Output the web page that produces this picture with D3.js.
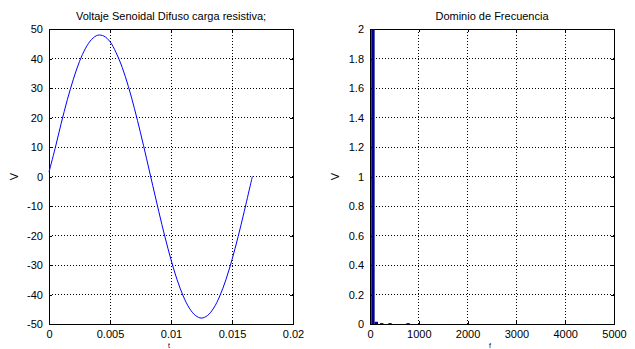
<!DOCTYPE html>
<html><head><meta charset="utf-8">
<title>Voltaje Senoidal</title>
<script src="https://cdn.jsdelivr.net/npm/d3@7"></script>
<style>
body { margin:0; background:#fff; }
text { font-family: "Liberation Sans", Arial, sans-serif; fill:#000; }
.grid line { stroke:#000; stroke-dasharray:1,2; stroke-width:1; shape-rendering:crispEdges; }
.ax path, .ax line { stroke:#000; shape-rendering:crispEdges; }
.ax text { font-size:11px; }
</style>
</head>
<body>
<script>
// time samples (s) and voltage
var tVals = [0,0.0005,0.001,0.0015,0.002,0.0025,0.003,0.0035,0.004,0.0045,0.005,0.0055,0.006,0.0065,0.007,0.0075,0.008,0.0085,0.009,0.0095,0.01,0.0105,0.011,0.0115,0.012,0.0125,0.013,0.0135,0.014,0.0145,0.015,0.0155,0.016,0.0165,0.01667];
var vVals = [1.5,9.5,18,26,33,39,43.5,46.5,47.9,47.6,45.7,42,37,30.6,23.1,14.8,6,-3,-11.9,-20.4,-28.2,-35,-40.5,-44.6,-47.1,-48,-47.1,-44.6,-40.5,-35,-28.2,-20.4,-11.9,-3,0];

// spectrum bars (Hz, magnitude)
var fVals = [60, 130, 240, 410, 780];
var magVals = [2, 0.015, 0.006, 0.006, 0.006];

var tTicks = [0,0.005,0.01,0.015,0.02];
var vTicks = [-50,-40,-30,-20,-10,0,10,20,30,40,50];
var fTicks = [0,1000,2000,3000,4000,5000];
var mTicks = [0,0.2,0.4,0.6,0.8,1,1.2,1.4,1.6,1.8,2];

var W = 635, H = 349;
var svg = d3.select("body").append("svg").attr("width", W).attr("height", H);

function panel(x0, x1, y0, y1, xDom, yDom, xt, yt, title, xl) {
	var w = x1 - x0, h = y1 - y0;
	var g = svg.append("g").attr("transform", "translate(" + x0 + "," + y0 + ")");
	var xs = d3.scaleLinear().domain(xDom).range([0, w]);
	var ys = d3.scaleLinear().domain(yDom).range([h, 0]);

	var grid = g.append("g").attr("class", "grid");
	grid.selectAll(".gx").data(xt.slice(1, -1)).enter().append("line")
		.attr("x1", xs).attr("x2", xs).attr("y1", 0).attr("y2", h);
	grid.selectAll(".gy").data(yt.slice(1, -1)).enter().append("line")
		.attr("y1", ys).attr("y2", ys).attr("x1", 0).attr("x2", w);

	g.append("g").attr("class", "ax").attr("transform", "translate(0," + h + ")")
		.call(d3.axisBottom(xs).tickValues(xt).tickFormat(String).tickSizeInner(-3).tickSizeOuter(0).tickPadding(6));
	g.append("g").attr("class", "ax")
		.call(d3.axisLeft(ys).tickValues(yt).tickFormat(String).tickSizeInner(-3).tickSizeOuter(0).tickPadding(6));
	g.append("g").attr("class", "ax")
		.call(d3.axisTop(xs).tickValues(xt).tickFormat("").tickSizeInner(-3).tickSizeOuter(0));
	g.append("g").attr("class", "ax").attr("transform", "translate(" + w + ",0)")
		.call(d3.axisRight(ys).tickValues(yt).tickFormat("").tickSizeInner(-3).tickSizeOuter(0));
	g.selectAll(".ax .domain").attr("stroke", "#000");

	svg.append("text").attr("x", x0 + w / 2).attr("y", y0 - 9).attr("text-anchor", "middle")
		.style("font-size", "11px").text(title);
	svg.append("text").attr("x", x0 + w / 2 - 2).attr("y", y1 + 24).attr("text-anchor", "middle")
		.style("font-size", "7px").text(xl);
	svg.append("text").attr("transform", "translate(" + (x0 - 31) + "," + (y0 + h / 2) + ") rotate(-90)")
		.attr("text-anchor", "middle").style("font-size", "11px").text("V");

	return {g: g, xs: xs, ys: ys, w: w, h: h};
}

var p1 = panel(49, 293, 29, 324, [0, 0.02], [-50, 50], tTicks, vTicks, "Voltaje Senoidal Difuso carga resistiva;", "t");
var line = d3.line().x(function(d, i) { return p1.xs(tVals[i]); }).y(function(d) { return p1.ys(d); })
	.curve(d3.curveCatmullRom);
p1.g.append("path").datum(vVals).attr("d", line)
	.attr("fill", "none").attr("stroke", "#0000ff").attr("stroke-width", 1);

var p2 = panel(370, 614, 29, 324, [0, 5000], [0, 2], fTicks, mTicks, "Dominio de Frecuencia", "f");
var bw = 70;
p2.g.selectAll("rect.bar").data(fVals).enter().append("rect")
	.attr("class", "bar")
	.attr("x", function(d) { return p2.xs(d - bw / 2); })
	.attr("width", function(d) { return Math.max(1, p2.xs(d + bw / 2) - p2.xs(d - bw / 2)); })
	.attr("y", function(d, i) { return p2.ys(magVals[i]); })
	.attr("height", function(d, i) { return Math.max(1, p2.h - p2.ys(magVals[i])); })
	.attr("fill", "#00008f");
</script>
</body></html>
